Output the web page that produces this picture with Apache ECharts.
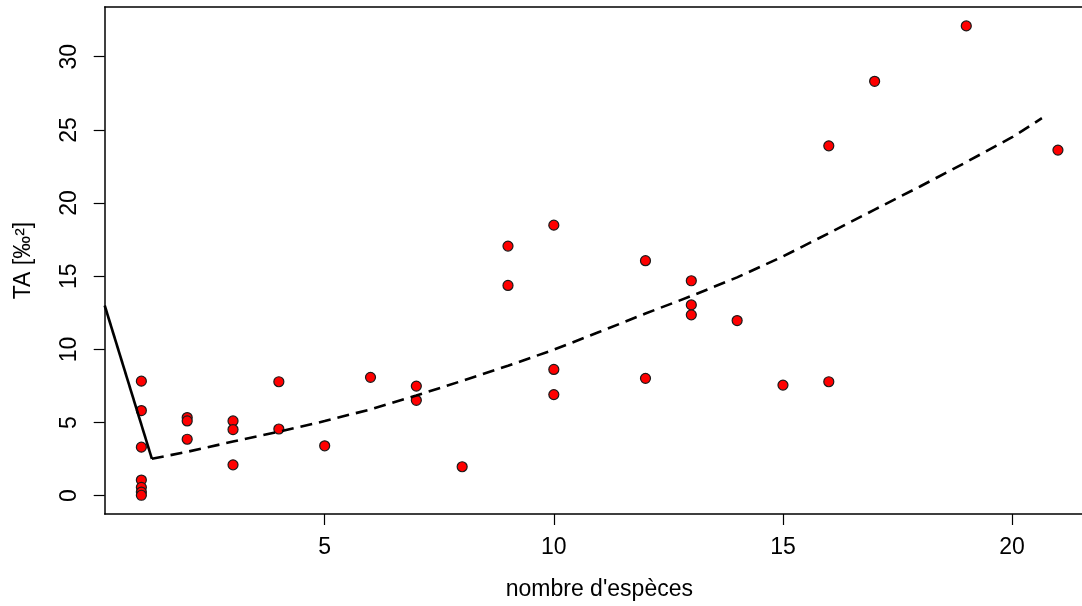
<!DOCTYPE html>
<html>
<head>
<meta charset="utf-8">
<script src="https://cdn.jsdelivr.net/npm/echarts@6/dist/echarts.min.js"></script>
<style>
  html, body { margin: 0; padding: 0; background: #fff; }
  #chart { width: 1082px; height: 606px; }
</style>
</head>
<body>
<div id="chart"></div>
<script>
// Observed samples: number of species vs TA
const speciesCount = [1, 1, 1, 1, 1, 1, 1, 2, 2, 2, 3, 3, 3, 4, 4, 5, 6, 7, 7, 8, 9, 9,
  10, 10, 10, 12, 12, 13, 13, 13, 14, 15, 16, 16, 17, 19, 21];
const taValues = [7.83, 5.82, 3.32, 1.07, 0.57, 0.25, 0.03, 5.34, 5.11, 3.86, 5.11, 4.52, 2.11,
  7.79, 4.56, 3.41, 8.09, 7.49, 6.52, 1.98, 17.06, 14.37, 18.49, 8.63, 6.91, 16.06, 8.02,
  14.69, 13.04, 12.36, 11.97, 7.56, 23.91, 7.79, 28.32, 32.11, 23.62];

// Fitted trend (dashed)
const trendX = [1.23, 2, 3, 4, 5, 6, 7, 8, 9, 10, 11, 12, 13, 14, 15, 16, 17, 18, 19, 20, 20.65];
const trendY = [2.52, 3.0, 3.7, 4.38, 5.1, 5.9, 6.85, 7.85, 8.88, 9.98, 11.2, 12.45, 13.65,
  14.92, 16.35, 17.94, 19.55, 21.15, 22.8, 24.5, 25.8];

// Left segment (solid)
const segX = [0.2, 1.23];
const segY = [13.0, 2.52];

// Axis ticks
const xTicks = [5, 10, 15, 20];
const yTicks = [0, 5, 10, 15, 20, 25, 30];

const zip = (a, b) => a.map((v, i) => [v, b[i]]);
const font = 'Liberation Sans, Arial, Helvetica, sans-serif';
const axisLineStyle = { color: '#000', width: 1.5 };

const chart = echarts.init(document.getElementById('chart'), null, { renderer: 'canvas' });
chart.setOption({
  animation: false,
  backgroundColor: '#ffffff',
  grid: { left: 104.7, right: 0, top: 7, bottom: 90.7 },
  xAxis: [
    {
      type: 'value', min: 0.2, max: 21.525, position: 'bottom',
      name: "nombre d'espèces", nameLocation: 'middle', nameGap: 64,
      nameTextStyle: { fontFamily: font, fontSize: 23, color: '#000', padding: [0, 0, 0, 12] },
      splitLine: { show: false },
      axisLine: { show: true, onZero: false, lineStyle: axisLineStyle },
      axisTick: { show: true, length: 11, customValues: xTicks, lineStyle: { color: '#000', width: 1.2 } },
      axisLabel: { customValues: xTicks, margin: 22, fontFamily: font, fontSize: 23, color: '#000' }
    },
    {
      // top frame line
      type: 'value', min: 0.2, max: 21.525, position: 'top',
      splitLine: { show: false },
      axisLine: { show: true, onZero: false, lineStyle: axisLineStyle },
      axisTick: { show: false },
      axisLabel: { show: false }
    }
  ],
  yAxis: {
    type: 'value', min: -1.25, max: 33.4,
    name: 'TA [‰²]', nameLocation: 'middle', nameGap: 70, nameRotate: 90,
    nameTextStyle: { fontFamily: font, fontSize: 23, color: '#000' },
    splitLine: { show: false },
    axisLine: { show: true, onZero: false, lineStyle: axisLineStyle },
    axisTick: { show: true, length: 11, customValues: yTicks, lineStyle: { color: '#000', width: 1.2 } },
    axisLabel: { customValues: yTicks, rotate: 90, margin: 24, fontFamily: font, fontSize: 23, color: '#000' }
  },
  series: [
    {
      type: 'scatter',
      data: zip(speciesCount, taValues),
      symbol: 'circle', symbolSize: 10,
      itemStyle: { color: '#ff0000', borderColor: '#1a1a1a', borderWidth: 1.2, opacity: 1 },
      z: 2
    },
    {
      type: 'line',
      data: zip(segX, segY),
      showSymbol: false, symbol: 'none',
      lineStyle: { color: '#000', width: 2.6, type: 'solid' },
      z: 3
    },
    {
      type: 'line',
      data: zip(trendX, trendY),
      showSymbol: false, symbol: 'none',
      lineStyle: { color: '#000', width: 2.6, type: [12, 7] },
      z: 3
    }
  ]
});
</script>
</body>
</html>
